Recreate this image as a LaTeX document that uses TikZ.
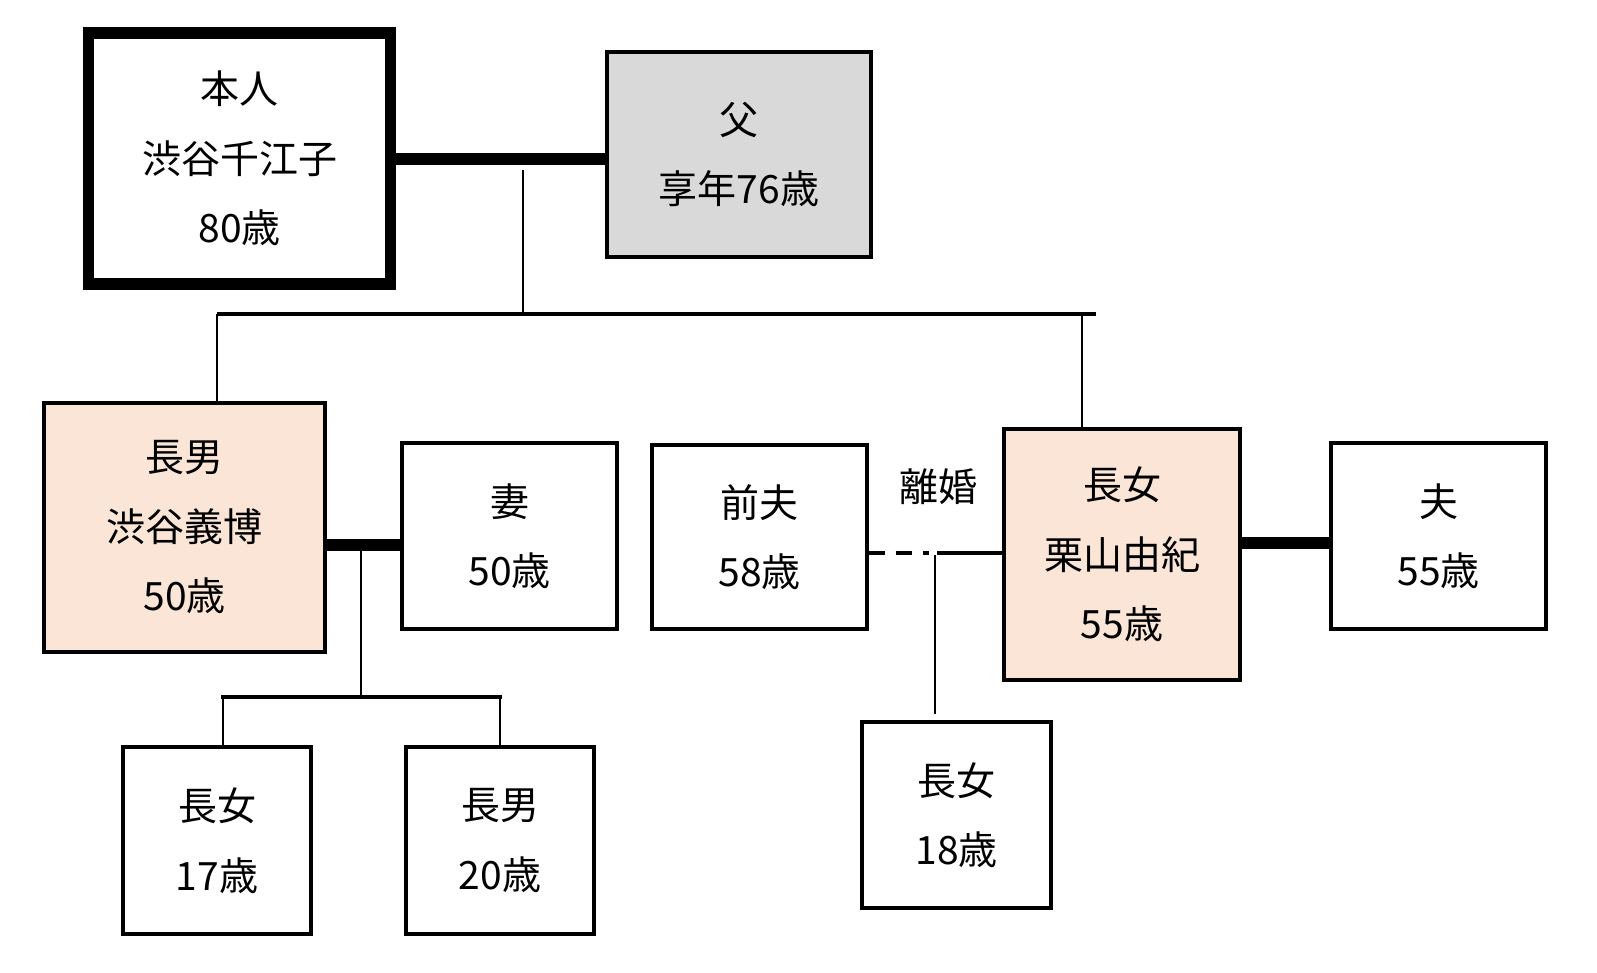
\documentclass[tikz,border=0pt]{standalone}
\usepackage{fontspec}
\setmainfont{Noto Sans CJK JP}
\definecolor{peach}{HTML}{FBE5D6}
\definecolor{lgray}{HTML}{D9D9D9}
\begin{document}
\begin{tikzpicture}[x=1pt,y=-1pt,
  txt/.style={font=\fontsize{39}{69.5}\selectfont, align=center},
  box/.style={txt, draw=black, line width=3.4pt, fill=white, inner sep=0pt},
  mainbox/.style={box, line width=11.5pt},
  bond/.style={line width=12pt},
  thinline/.style={line width=2.3pt},
  barline/.style={line width=3.6pt},
  exbond/.style={line width=4.2pt}]
\useasboundingbox (0,0) rectangle (1597,972);

% boxes
\node[mainbox, minimum width=302pt, minimum height=251pt] (self) at (239.5,158.5) {本人\\渋谷千江子\\80歳};
\node[box, fill=lgray, minimum width=264pt, minimum height=205pt] (father) at (739,154.5) {父\\享年76歳};
\node[box, fill=peach, minimum width=281pt, minimum height=249pt] (son) at (184.5,527.5) {長男\\渋谷義博\\50歳};
\node[box, minimum width=215pt, minimum height=186pt] (wife) at (509.5,536) {妻\\50歳};
\node[box, minimum width=215pt, minimum height=184pt] (exhus) at (759.5,537) {前夫\\58歳};
\node[box, fill=peach, minimum width=236pt, minimum height=251pt] (daughter) at (1122,554.5) {長女\\栗山由紀\\55歳};
\node[box, minimum width=215pt, minimum height=186pt] (husband) at (1438.5,536) {夫\\55歳};
\node[box, minimum width=188pt, minimum height=187pt] (kidA) at (217,840.5) {長女\\17歳};
\node[box, minimum width=188pt, minimum height=187pt] (kidB) at (500,840.5) {長男\\20歳};
\node[box, minimum width=189pt, minimum height=186pt] (gchild) at (956.5,815) {長女\\18歳};
\node[txt] (divlabel) at (938,487) {離婚};

% parents
\draw[bond] (self.east) -- (self.east -| father.west);
\coordinate (pdrop) at (523,170);
\coordinate (pbar) at (523,314);
\draw[thinline] (pdrop) -- (pbar);
\coordinate (sibL) at (217,314);
\coordinate (sibR) at (1096,314);
\draw[barline] (sibL) -- (sibR);
\draw[thinline] (sibL) -- (sibL |- son.north);
\coordinate (dauTop) at (1082,312);
\draw[thinline] (dauTop) -- (dauTop |- daughter.north);

% son family
\coordinate (sonbond) at ([yshift=-17.5pt]son.east);
\draw[bond] (sonbond) -- (sonbond -| wife.west);
\coordinate (kdrop) at (361,551);
\coordinate (kbar) at (361,697);
\draw[thinline] (kdrop) -- (kbar);
\coordinate (kL) at (221,697);
\coordinate (kR) at (502,697);
\draw[barline] (kL) -- (kR);
\coordinate (kAtop) at (223,697);
\coordinate (kBtop) at (500,697);
\draw[thinline] (kAtop) -- (kAtop |- kidA.north);
\draw[thinline] (kBtop) -- (kBtop |- kidB.north);

% daughter family
\coordinate (daubond) at ([yshift=11.5pt]daughter.east);
\draw[bond] (daubond) -- (daubond -| husband.west);
\coordinate (divL) at ([yshift=-16pt]exhus.east);
\coordinate (divM) at (929,553);
\coordinate (divN) at (937,553);
\draw[exbond, dash pattern=on 16.5pt off 10.5pt] (divL) -- (divM);
\draw[exbond] (divN) -- (divN -| daughter.west);
\coordinate (divJ) at (935,555);
\coordinate (gcTop) at (935,714);
\draw[thinline] (divJ) -- (gcTop);
\end{tikzpicture}
\end{document}
